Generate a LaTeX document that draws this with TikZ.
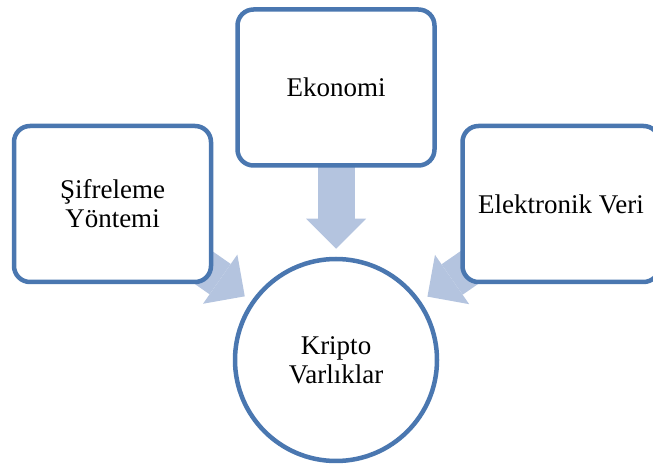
\documentclass[tikz,border=0pt]{standalone}
\usepackage{fontspec}
\setmainfont{Liberation Serif}
\usetikzlibrary{arrows.meta,backgrounds}
\definecolor{rimblue}{RGB}{74,119,176}
\definecolor{flowblue}{RGB}{180,196,223}

\begin{document}
\begin{tikzpicture}[x=1pt, y=1pt,
                    item/.style={draw=rimblue, line width=4.5pt, fill=white, rounded corners=16pt, minimum width=197pt, minimum height=156pt, align=center, font=\fontsize{27}{29}\selectfont},
                    core/.style={circle, draw=rimblue, line width=4.5pt, fill=white, minimum size=202pt, align=center, font=\fontsize{27}{29}\selectfont},
                    flow/.style={draw=flowblue, line width=37pt, -{Triangle[length=30pt, width=60pt, line width=0pt]}, shorten >=8pt},
                ]
                \useasboundingbox (0,0) rectangle (653,468);
                %Nodes
                \node[core] (kv)  at (336,108)   {Kripto\\Varlıklar};
                \node[item] (eko) at (336,380.5) {Ekonomi};
                \node[item] (sif) at (112.5,264) {Şifreleme\\Yöntemi};
                \node[item] (ev)  at (561,264)   {Elektronik Veri};
                %Arrows
                \begin{scope}[on background layer]
                \draw[flow] (eko.center) -- (kv);
                \draw[flow] (sif.center) -- (kv);
                \draw[flow] (ev.center)  -- (kv);
                \end{scope}
            \end{tikzpicture}
\end{document}
